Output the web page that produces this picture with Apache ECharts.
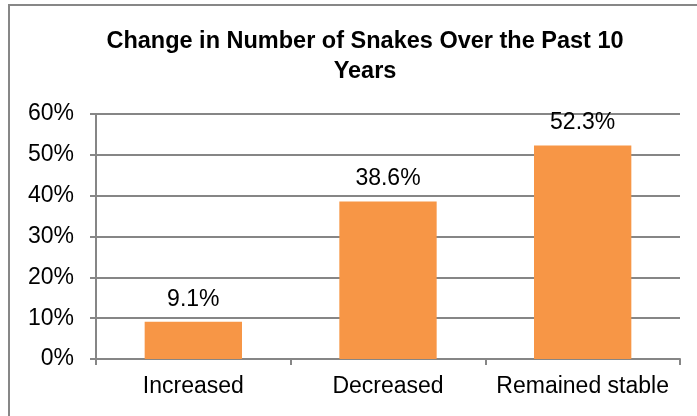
<!DOCTYPE html>
<html>
<head>
<meta charset="utf-8">
<script src="https://cdn.jsdelivr.net/npm/echarts@6/dist/echarts.min.js"></script>
<style>
html,body{margin:0;padding:0;background:#fff;}
#chart{width:697px;height:416px;}
</style>
</head>
<body>
<div id="chart"></div>
<script>
var categories = ['Increased', 'Decreased', 'Remained stable'];
var values = [9.1, 38.6, 52.3];
var titleText = 'Change in Number of Snakes Over the Past 10\nYears';

var chart = echarts.init(document.getElementById('chart'), null, {renderer: 'canvas'});
var font = 'Arial, "Liberation Sans", sans-serif';
chart.setOption({
  animation: false,
  backgroundColor: '#fff',
  title: {
    text: titleText,
    left: 360,
    top: 22,
    textAlign: 'center',
    textStyle: {fontFamily: font, fontWeight: 'bold', fontSize: 23.5, color: '#000', lineHeight: 30}
  },
  graphic: [{
    type: 'rect',
    shape: {x: 9, y: 5, width: 700, height: 420},
    style: {fill: 'none', stroke: '#878787', lineWidth: 2}
  }],
  grid: {left: 96, right: 17, top: 114, bottom: 57},
  xAxis: {
    type: 'category',
    data: categories,
    axisLine: {lineStyle: {color: '#868686', width: 2}},
    axisTick: {show: true, length: 6, alignWithLabel: false, lineStyle: {color: '#868686', width: 2}},
    axisLabel: {interval: 0, fontFamily: font, fontSize: 23, color: '#000', margin: 16}
  },
  yAxis: {
    type: 'value',
    min: 0, max: 60, interval: 10,
    axisLine: {show: true, lineStyle: {color: '#868686', width: 2}},
    axisTick: {show: true, length: 6, lineStyle: {color: '#868686', width: 2}},
    splitLine: {lineStyle: {color: '#868686', width: 2}},
    axisLabel: {fontFamily: font, fontSize: 23, color: '#000', margin: 22, formatter: '{value}%'}
  },
  series: [{
    type: 'bar',
    data: values,
    barCategoryGap: '50%',
    itemStyle: {color: '#F79646'},
    label: {show: true, position: 'top', distance: 11, fontFamily: font, fontSize: 23, color: '#000', formatter: function(p){return p.value.toFixed(1) + '%';}}
  }]
});
</script>
</body>
</html>
